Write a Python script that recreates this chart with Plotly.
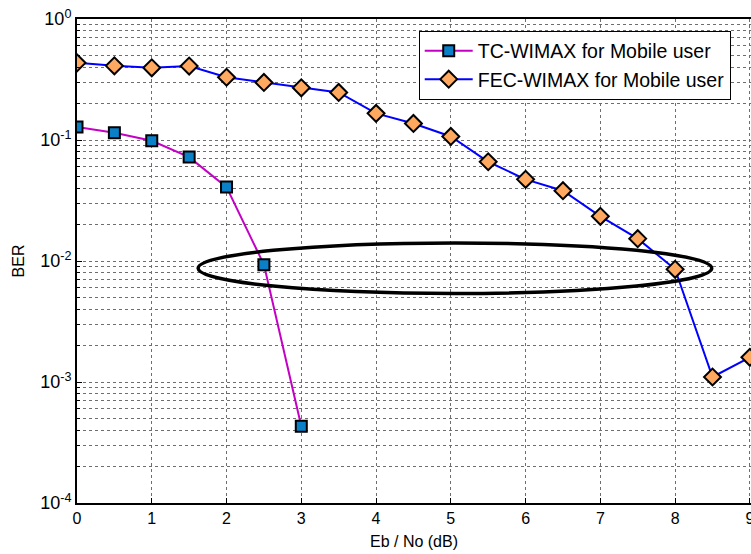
import plotly.graph_objects as go
import numpy as np

# ---- data ----
ebno = [0, 0.5, 1, 1.5, 2, 2.5, 3, 3.5, 4, 4.5, 5, 5.5, 6, 6.5, 7, 7.5, 8, 8.5, 9]
tc_x = [0, 0.5, 1, 1.5, 2, 2.5, 3]
tc_ber = [0.128, 0.115, 0.0985, 0.0722, 0.0408, 0.00933, 0.000431]
fec_ber = [0.434, 0.410, 0.395, 0.408, 0.330, 0.299, 0.270, 0.247, 0.166, 0.137,
           0.107, 0.0661, 0.0473, 0.0381, 0.0234, 0.0153, 0.00854, 0.00110, 0.0016]
x_ticks = list(range(0, 10))
y_decades = [1e-4, 1e-3, 1e-2, 1e-1, 1e0]
y_decade_labels = ["10<sup>-4</sup>", "10<sup>-3</sup>", "10<sup>-2</sup>",
                   "10<sup>-1</sup>", "10<sup>0</sup>"]
# highlight ellipse (data x, BER y)
ell_x = [1.62, 8.49]
ell_ber = [0.00539, 0.0141]

y_min_exp, y_max_exp = -4, 0

# minor ticks 2..9 per decade
y_minor = []
for d in range(y_min_exp, y_max_exp):
    for m in range(2, 10):
        y_minor.append(m * 10.0 ** d)

def ypaper(v):
    return float((np.log10(v) - y_min_exp) / (y_max_exp - y_min_exp))

fig = go.Figure()
fig.add_trace(go.Scatter(
    x=tc_x, y=tc_ber, mode="lines+markers", name="TC-WIMAX for Mobile user",
    line=dict(color="#C400C4", width=2),
    marker=dict(symbol="square", size=11, color="#0A80C8",
                line=dict(color="black", width=2))))
fig.add_trace(go.Scatter(
    x=ebno, y=fec_ber, mode="lines+markers", name="FEC-WIMAX for Mobile user",
    line=dict(color="#0000FF", width=2),
    marker=dict(symbol="diamond", size=13, color="#FFA860",
                line=dict(color="black", width=2))))

fig.add_shape(type="circle", xref="x", yref="paper", layer="above",
              x0=ell_x[0], x1=ell_x[1],
              y0=ypaper(ell_ber[0]), y1=ypaper(ell_ber[1]),
              line=dict(color="black", width=3.5))

grid_col = "#6e6e6e"
fig.update_layout(
    width=751, height=554,
    margin=dict(l=77, r=0, t=19, b=51),
    paper_bgcolor="white", plot_bgcolor="white",
    font=dict(family="Liberation Sans, Arial, sans-serif", color="black"),
    showlegend=True,
    legend=dict(x=0.507, y=0.976, xanchor="left", yanchor="top",
                bordercolor="black", borderwidth=1, bgcolor="white",
                font=dict(size=19.5), itemwidth=48, tracegroupgap=0),
    xaxis=dict(range=[0, 9.015], tickvals=x_ticks, ticks="inside", ticklen=5,
               tickcolor="black", showline=True, linecolor="black", linewidth=2,
               mirror=True, showgrid=True, gridcolor=grid_col, griddash="dot",
               gridwidth=1, zeroline=False, tickfont=dict(size=16),
               automargin=False, ticklabeloverflow="allow",
               title=dict(text="Eb / No (dB)", font=dict(size=16), standoff=10)),
    yaxis=dict(type="log", range=[y_min_exp, y_max_exp], tickvals=y_decades,
               ticktext=y_decade_labels,
               ticks="inside", ticklen=5, tickcolor="black", showline=True,
               linecolor="black", linewidth=2, showgrid=True, gridcolor=grid_col,
               griddash="dot", gridwidth=1, zeroline=False,
               tickfont=dict(size=18), automargin=False,
               minor=dict(tickvals=y_minor, ticks="inside", ticklen=3,
                          tickcolor="black", showgrid=True, gridcolor=grid_col,
                          griddash="dot", gridwidth=1),
               title=dict(text="BER", font=dict(size=16), standoff=12)),
)

fig.write_html("out.html", config={"displayModeBar": False},
               post_script="document.body.style.margin='0px';document.body.style.overflow='hidden';")
